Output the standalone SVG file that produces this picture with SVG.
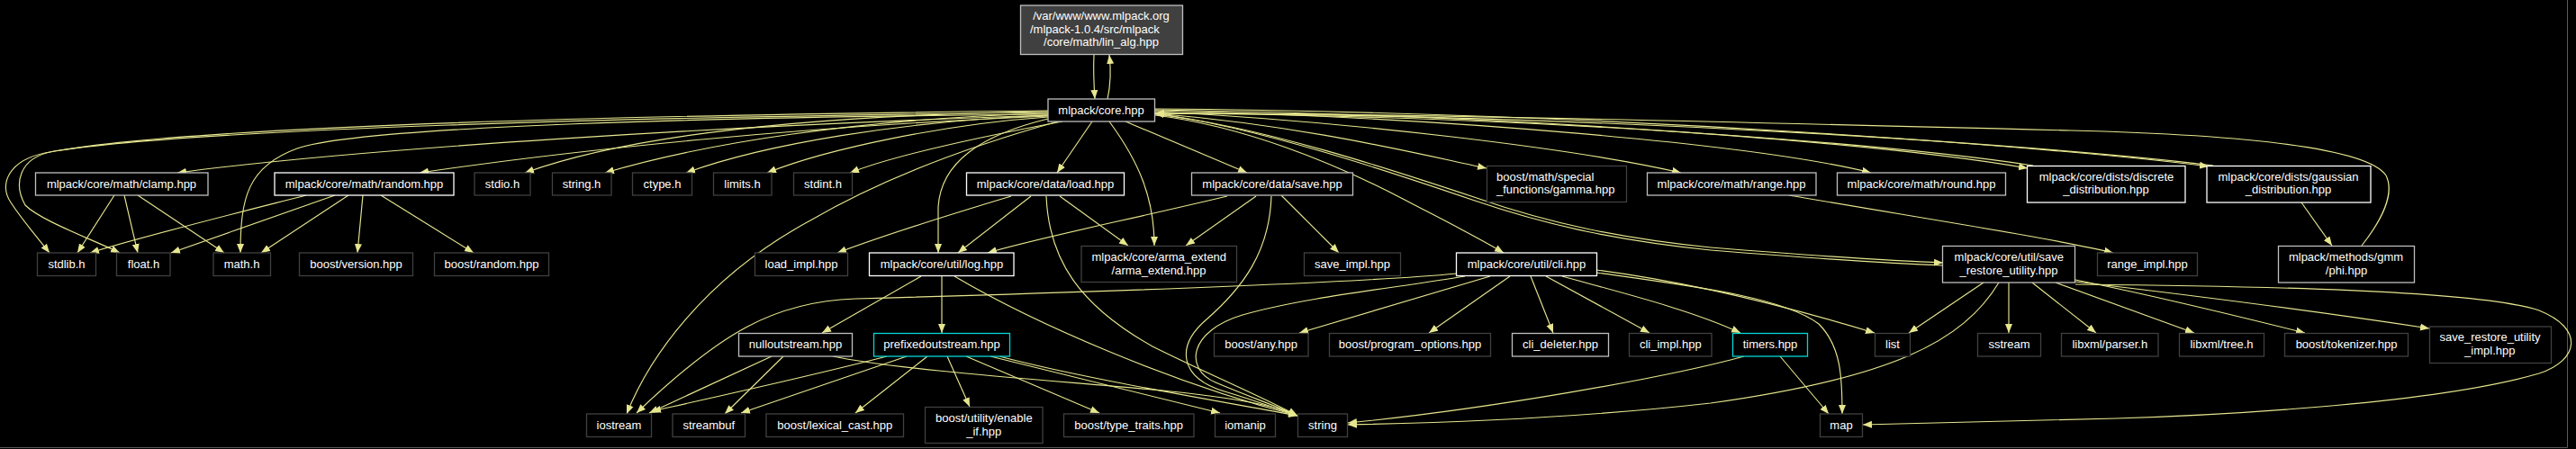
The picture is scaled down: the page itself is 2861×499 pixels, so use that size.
<svg xmlns="http://www.w3.org/2000/svg" width="2861" height="499" viewBox="0 0 2861 499">
<defs>
<style>
.bg{fill:#000}
.n{fill:#000;stroke-width:1.3}
.w{stroke:#ffffff}
.g{stroke:#bfbfbf}
.d{stroke:#404040}
.c{stroke:#00d8d8}
.t{fill:#ffffff;font-family:"Liberation Sans",Arial,Helvetica,sans-serif;font-size:13px;text-anchor:middle}
.s{text-anchor:start}
.e{fill:none;stroke:#e6e68f;stroke-width:1.15;marker-end:url(#ah)}
</style>
<marker id="ah" markerUnits="userSpaceOnUse" markerWidth="11" markerHeight="9" refX="10" refY="4" orient="auto" viewBox="0 0 11 8">
<path d="M0,0 L10,4 L0,8 z" fill="#e6e68f"/>
</marker>
</defs>
<rect class="bg" x="0" y="0" width="2861" height="499"/>
<path d="M0,497.5 H2851.5 V0" fill="none" stroke="#5a5a5a" stroke-width="1"/>

<g id="edges">
<path class="e" d="M1215,61 C1214,80 1215,95 1216,110"/>
<path class="e" d="M1230,110 C1234,92 1234,78 1232,61"/>
<path class="e" d="M1164,123 C700,128 200,140 50,170 C10,178 -2,205 12,225 C25,245 40,262 55,281"/>
<path class="e" d="M1164,125 C700,130 220,143 60,168 C20,175 15,205 28,228 C45,245 100,265 133,281"/>
<path class="e" d="M1164,127 C800,130 400,140 330,165 C275,185 267,220 267,281"/>
<path class="e" d="M1164,128 C800,140 400,165 197,192"/>
<path class="e" d="M1164,129 C900,140 650,165 466,192"/>
<path class="e" d="M1164,124 C900,128 700,150 583,192"/>
<path class="e" d="M1164,126 C950,132 780,160 672,192"/>
<path class="e" d="M1164,128 C1000,135 850,160 762,192"/>
<path class="e" d="M1164,130 C1050,138 920,165 852,192"/>
<path class="e" d="M1180,135 C1100,150 1000,170 944,192"/>
<path class="e" d="M1175,135 C1050,170 960,210 900,245 C780,310 720,400 696,460"/>
<path class="e" d="M1164,132 C1090,150 1045,180 1042,230 L1042,281"/>
<path class="e" d="M1213,135 L1174,192"/>
<path class="e" d="M1250,135 L1385,192"/>
<path class="e" d="M1232,135 C1265,180 1282,220 1282,273"/>
<path class="e" d="M1283,126 C1450,140 1570,170 1651,187"/>
<path class="e" d="M1283,124 C1500,135 1750,165 1867,192"/>
<path class="e" d="M1283,123 C1600,130 1950,160 2078,192"/>
<path class="e" d="M1283,122 C1700,128 2100,160 2252,187"/>
<path class="e" d="M1283,121 C1800,125 2300,165 2453,185"/>
<path class="e" d="M2258,184 C2100,160 1700,128 1283,126"/>
<path class="e" d="M2458,184 C2300,164 1800,127 1283,126"/>
<path class="e" d="M2623,273 C2645,245 2660,215 2650,195 C2630,165 2500,150 2300,145 C1900,135 1500,125 1283,126"/>
<path class="e" d="M1283,128 C1380,140 1480,180 1560,222 C1600,243 1640,263 1670,281"/>
<path class="e" d="M1283,127 C1400,140 1550,190 1640,220 C1720,248 1800,265 1900,275 C2000,283 2100,290 2158,292"/>
<path class="e" d="M2158,295 C2100,293 2000,286 1900,278 C1800,268 1720,251 1638,223 C1550,193 1400,142 1283,126"/>
<path class="e" d="M2556,225 L2590,273"/>
<path class="e" d="M1987,217 C2150,245 2280,265 2347,281"/>
<path class="e" d="M1123,218 C1050,240 980,262 930,281"/>
<path class="e" d="M1145,218 L1064,281"/>
<path class="e" d="M1162,218 C1165,290 1200,340 1280,385 C1340,415 1400,440 1441,462"/>
<path class="e" d="M1177,218 L1253,273"/>
<path class="e" d="M1363,218 C1250,245 1150,265 1097,281"/>
<path class="e" d="M1395,218 L1317,273"/>
<path class="e" d="M1412,218 C1410,280 1380,320 1340,355 C1305,385 1310,420 1360,435 C1400,447 1420,455 1441,462"/>
<path class="e" d="M1423,217 L1487,281"/>
<path class="e" d="M1627,307 C1550,320 1450,330 1380,350 C1320,368 1315,410 1350,425 C1390,442 1420,452 1441,462"/>
<path class="e" d="M1618,304 C1500,315 1200,325 950,332 C860,335 800,370 707,459"/>
<path class="e" d="M1655,307 L1443,370"/>
<path class="e" d="M1677,307 L1587,370"/>
<path class="e" d="M1700,307 L1725,370"/>
<path class="e" d="M1717,307 L1832,370"/>
<path class="e" d="M1735,307 C1800,325 1880,345 1933,370"/>
<path class="e" d="M1773,300 C1850,310 1950,330 2082,370"/>
<path class="e" d="M1773,303 C1880,318 1980,330 2020,360 C2045,385 2046,420 2046,460"/>
<path class="e" d="M1023,307 L913,370"/>
<path class="e" d="M1046,307 L1046,370"/>
<path class="e" d="M1060,307 C1150,360 1300,425 1441,462"/>
<path class="e" d="M857,396 L721,459"/>
<path class="e" d="M870,396 L805,460"/>
<path class="e" d="M925,396 C1000,412 1200,425 1300,435 C1380,443 1420,452 1441,462"/>
<path class="e" d="M985,396 C900,418 800,440 724,457"/>
<path class="e" d="M1007,396 L823,459"/>
<path class="e" d="M1030,396 L950,459"/>
<path class="e" d="M1052,396 L1077,452"/>
<path class="e" d="M1073,396 L1221,459"/>
<path class="e" d="M1100,396 L1355,459"/>
<path class="e" d="M1110,396 C1200,420 1350,445 1441,462"/>
<path class="e" d="M1937,396 C1850,420 1650,455 1497,470"/>
<path class="e" d="M1977,396 L2031,460"/>
<path class="e" d="M2203,314 L2120,370"/>
<path class="e" d="M2220,314 C2180,380 2100,420 1900,448 C1750,465 1600,470 1497,472"/>
<path class="e" d="M2231,314 L2231,370"/>
<path class="e" d="M2257,314 L2328,370"/>
<path class="e" d="M2283,314 L2437,370"/>
<path class="e" d="M2305,311 C2400,330 2500,355 2560,370"/>
<path class="e" d="M2305,313 C2450,330 2600,350 2698,365"/>
<path class="e" d="M2305,316 C2500,318 2750,322 2820,345 C2870,365 2865,400 2820,415 C2700,450 2450,462 2350,465 C2250,468 2150,470 2069,472"/>
<path class="e" d="M127,217 L86,281"/>
<path class="e" d="M138,217 L153,281"/>
<path class="e" d="M153,217 L249,281"/>
<path class="e" d="M340,217 C250,240 150,265 100,281"/>
<path class="e" d="M372,217 L190,281"/>
<path class="e" d="M387,217 L290,281"/>
<path class="e" d="M403,217 L397,281"/>
<path class="e" d="M423,217 L526,281"/>
</g>

<g id="lin_alg"><rect x="1133.5" y="6" width="180" height="54.5" fill="#404040" stroke="#bfbfbf" stroke-width="1.3"/>
<text class="t" x="1223" y="21.5">/var/www/www.mlpack.org</text><text class="t s" x="1144" y="36.5">/mlpack-1.0.4/src/mlpack</text><text class="t" x="1223" y="51">/core/math/lin_alg.hpp</text></g>
<g id="core"><rect class="n g" x="1164" y="110" width="118.5" height="25"/><text class="t" x="1223" y="126.5">mlpack/core.hpp</text></g>

<g id="clamp"><rect class="n g" x="39.5" y="192" width="191.5" height="25"/><text class="t" x="135" y="208.5">mlpack/core/math/clamp.hpp</text></g>
<g id="random"><rect class="n w" x="305" y="192" width="199" height="25"/><text class="t" x="404.5" y="208.5">mlpack/core/math/random.hpp</text></g>
<g id="stdio"><rect class="n d" x="527" y="192" width="62" height="25"/><text class="t" x="558" y="208.5">stdio.h</text></g>
<g id="string_h"><rect class="n d" x="613.5" y="192" width="65.5" height="25"/><text class="t" x="646" y="208.5">string.h</text></g>
<g id="ctype"><rect class="n d" x="702.5" y="192" width="66" height="25"/><text class="t" x="735.5" y="208.5">ctype.h</text></g>
<g id="limits"><rect class="n d" x="792.5" y="192" width="64.5" height="25"/><text class="t" x="824.5" y="208.5">limits.h</text></g>
<g id="stdint"><rect class="n d" x="881.5" y="192" width="65" height="25"/><text class="t" x="914" y="208.5">stdint.h</text></g>
<g id="load"><rect class="n w" x="1073.5" y="192" width="175" height="25"/><text class="t" x="1161" y="208.5">mlpack/core/data/load.hpp</text></g>
<g id="save"><rect class="n g" x="1323.5" y="192" width="179" height="25"/><text class="t" x="1413" y="208.5">mlpack/core/data/save.hpp</text></g>
<g id="gamma"><rect class="n d" x="1651.5" y="184.5" width="155" height="40"/><text class="t s" x="1662" y="201">boost/math/special</text><text class="t s" x="1662" y="215">_functions/gamma.hpp</text></g>
<g id="range"><rect class="n g" x="1829.5" y="192" width="187.5" height="25"/><text class="t" x="1923" y="208.5">mlpack/core/math/range.hpp</text></g>
<g id="round"><rect class="n g" x="2040.5" y="192" width="187" height="25"/><text class="t" x="2134" y="208.5">mlpack/core/math/round.hpp</text></g>
<g id="discrete"><rect class="n w" x="2251.5" y="184.5" width="175.5" height="40.5"/><text class="t" x="2339.5" y="201">mlpack/core/dists/discrete</text><text class="t" x="2339" y="215">_distribution.hpp</text></g>
<g id="gaussian"><rect class="n w" x="2451" y="184.5" width="182" height="40.5"/><text class="t" x="2541.5" y="201">mlpack/core/dists/gaussian</text><text class="t" x="2541.5" y="215">_distribution.hpp</text></g>

<g id="stdlib"><rect class="n d" x="41.5" y="281" width="65" height="25.5"/><text class="t" x="74" y="297.5">stdlib.h</text></g>
<g id="float"><rect class="n d" x="129.5" y="281" width="59.5" height="25.5"/><text class="t" x="159.5" y="297.5">float.h</text></g>
<g id="math"><rect class="n d" x="237" y="281" width="63.5" height="25.5"/><text class="t" x="268.5" y="297.5">math.h</text></g>
<g id="boost_version"><rect class="n d" x="332.5" y="281" width="126" height="25.5"/><text class="t" x="395.5" y="297.5">boost/version.hpp</text></g>
<g id="boost_random"><rect class="n d" x="482.5" y="281" width="127" height="25.5"/><text class="t" x="546" y="297.5">boost/random.hpp</text></g>
<g id="load_impl"><rect class="n d" x="838.5" y="281" width="103" height="25.5"/><text class="t" x="890" y="297.5">load_impl.hpp</text></g>
<g id="log"><rect class="n w" x="965.5" y="281" width="160.5" height="25.5"/><text class="t" x="1046" y="297.5">mlpack/core/util/log.hpp</text></g>
<g id="arma_extend"><rect class="n d" x="1201" y="273.5" width="172.5" height="40"/><text class="t" x="1287.3" y="290">mlpack/core/arma_extend</text><text class="t" x="1287" y="305">/arma_extend.hpp</text></g>
<g id="save_impl"><rect class="n d" x="1448.5" y="281" width="107" height="25.5"/><text class="t" x="1502" y="297.5">save_impl.hpp</text></g>
<g id="cli"><rect class="n w" x="1617.5" y="281" width="156" height="25.5"/><text class="t" x="1695.5" y="297.5">mlpack/core/util/cli.hpp</text></g>
<g id="save_restore"><rect class="n g" x="2157.5" y="273.5" width="147" height="40.5"/><text class="t" x="2231.3" y="290">mlpack/core/util/save</text><text class="t" x="2231" y="305">_restore_utility.hpp</text></g>
<g id="range_impl"><rect class="n d" x="2329.5" y="281" width="111" height="25.5"/><text class="t" x="2385" y="297.5">range_impl.hpp</text></g>
<g id="phi"><rect class="n g" x="2530.5" y="273.5" width="151" height="40.5"/><text class="t" x="2605.5" y="290">mlpack/methods/gmm</text><text class="t" x="2606" y="305">/phi.hpp</text></g>

<g id="nulloutstream"><rect class="n g" x="820.5" y="370.5" width="126" height="25.5"/><text class="t" x="883.5" y="387">nulloutstream.hpp</text></g>
<g id="prefixedoutstream"><rect class="n c" x="970.5" y="370.5" width="151" height="25.5"/><text class="t" x="1046" y="387">prefixedoutstream.hpp</text></g>
<g id="boost_any"><rect class="n d" x="1348.5" y="370.5" width="104.5" height="25.5"/><text class="t" x="1400.7" y="387">boost/any.hpp</text></g>
<g id="program_options"><rect class="n d" x="1476.5" y="370.5" width="179" height="25.5"/><text class="t" x="1566" y="387">boost/program_options.hpp</text></g>
<g id="cli_deleter"><rect class="n g" x="1679.5" y="370.5" width="107" height="25.5"/><text class="t" x="1733" y="387">cli_deleter.hpp</text></g>
<g id="cli_impl"><rect class="n d" x="1809.5" y="370.5" width="91.5" height="25.5"/><text class="t" x="1855.3" y="387">cli_impl.hpp</text></g>
<g id="timers"><rect class="n c" x="1924.5" y="370.5" width="83" height="25.5"/><text class="t" x="1966" y="387">timers.hpp</text></g>
<g id="list"><rect class="n d" x="2082.5" y="370.5" width="39" height="25.5"/><text class="t" x="2102" y="387">list</text></g>
<g id="sstream"><rect class="n d" x="2196.5" y="370.5" width="70" height="25.5"/><text class="t" x="2231.5" y="387">sstream</text></g>
<g id="libxml_parser"><rect class="n d" x="2289.5" y="370.5" width="107.5" height="25.5"/><text class="t" x="2343.3" y="387">libxml/parser.h</text></g>
<g id="libxml_tree"><rect class="n d" x="2420.5" y="370.5" width="94" height="25.5"/><text class="t" x="2467.5" y="387">libxml/tree.h</text></g>
<g id="tokenizer"><rect class="n d" x="2537.5" y="370.5" width="137" height="25.5"/><text class="t" x="2606" y="387">boost/tokenizer.hpp</text></g>
<g id="sru_impl"><rect class="n d" x="2698.5" y="363" width="135" height="40.5"/><text class="t" x="2765.5" y="379">save_restore_utility</text><text class="t" x="2765.3" y="394">_impl.hpp</text></g>

<g id="iostream"><rect class="n d" x="651.5" y="460" width="72" height="25.5"/><text class="t" x="687.5" y="476.5">iostream</text></g>
<g id="streambuf"><rect class="n d" x="747" y="460" width="80.5" height="25.5"/><text class="t" x="787.3" y="476.5">streambuf</text></g>
<g id="lexical_cast"><rect class="n d" x="851" y="460" width="152.5" height="25.5"/><text class="t" x="927.3" y="476.5">boost/lexical_cast.hpp</text></g>
<g id="enable_if"><rect class="n d" x="1027.5" y="452.5" width="130.5" height="40"/><text class="t" x="1092.8" y="469">boost/utility/enable</text><text class="t" x="1092.7" y="483.5">_if.hpp</text></g>
<g id="type_traits"><rect class="n d" x="1181.5" y="460" width="144.5" height="25.5"/><text class="t" x="1253.7" y="476.5">boost/type_traits.hpp</text></g>
<g id="iomanip"><rect class="n d" x="1349.5" y="460" width="67" height="25.5"/><text class="t" x="1383" y="476.5">iomanip</text></g>
<g id="string"><rect class="n d" x="1441.5" y="460" width="55" height="25.5"/><text class="t" x="1469" y="476.5">string</text></g>
<g id="map"><rect class="n d" x="2021.5" y="460" width="47" height="25.5"/><text class="t" x="2045" y="476.5">map</text></g>
</svg>
